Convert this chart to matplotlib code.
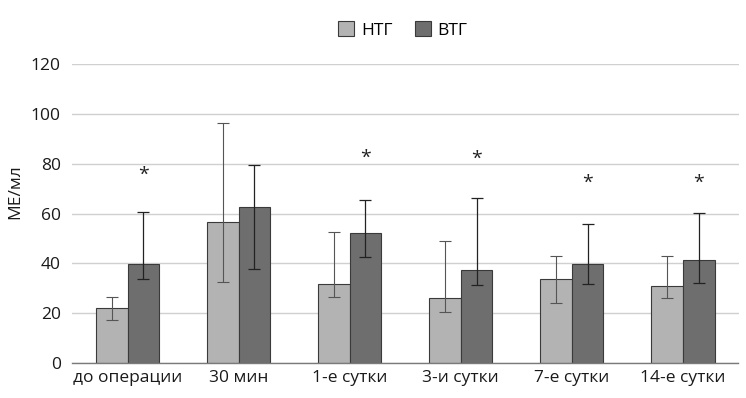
import matplotlib
matplotlib.use("Agg")
import matplotlib.pyplot as plt
import numpy as np

plt.rcParams['font.family'] = ['Open Sans', 'DejaVu Sans']

categories = ["до операции", "30 мин", "1-е сутки", "3-и сутки", "7-е сутки", "14-е сутки"]
series_names = ["НТГ", "ВТГ"]
ntg = [22.1, 56.5, 31.6, 26.1, 33.7, 30.9]
ntg_hi = [26.4, 96.4, 52.4, 49.1, 42.9, 42.9]
ntg_lo = [17.3, 32.7, 26.5, 20.3, 24.0, 25.9]
vtg = [39.7, 62.5, 52.3, 37.3, 39.7, 41.3]
vtg_hi = [60.8, 79.5, 65.3, 66.1, 55.9, 60.3]
vtg_lo = [33.9, 37.7, 42.5, 31.5, 31.9, 32.3]
star_pos = [75.5, None, 82.4, 82.1, 72.4, 72.4]
yticks = [0, 20, 40, 60, 80, 100, 120]

fig = plt.figure(figsize=(7.46, 3.98), dpi=100)
ax = fig.add_axes([72/746, 1-363/398, (738.5-72)/746, (363-64)/398])

x = np.arange(len(categories))
w = 0.284
c_light = "#b3b3b3"
c_dark = "#6e6e6e"

ax.bar(x - w/2, ntg, w, color=c_light, edgecolor="#3a3a3a", linewidth=0.8, label=series_names[0], zorder=2)
ax.bar(x + w/2, vtg, w, color=c_dark, edgecolor="#3a3a3a", linewidth=0.8, label=series_names[1], zorder=2)

ntg_a = np.array(ntg); vtg_a = np.array(vtg)
ax.errorbar(x - w/2, ntg_a, yerr=[ntg_a - np.array(ntg_lo), np.array(ntg_hi) - ntg_a],
            fmt='none', ecolor="#555555", elinewidth=0.8, capsize=4, capthick=0.8, zorder=3)
ax.errorbar(x + w/2, vtg_a, yerr=[vtg_a - np.array(vtg_lo), np.array(vtg_hi) - vtg_a],
            fmt='none', ecolor="#222222", elinewidth=0.9, capsize=4, capthick=0.9, zorder=3)

for xi, s in zip(x, star_pos):
    if s is not None:
        ax.text(xi + w/2, s, "*", ha="center", va="center", fontsize=14, color="#222222")

ax.set_xlim(-0.5, len(categories) - 0.5)
ax.set_ylim(0, 120)
ax.set_yticks(yticks)
ax.set_xticks(x)
ax.set_xticklabels(categories)
ax.tick_params(axis='both', length=0, labelsize=12.5, colors="#1a1a1a")
ax.tick_params(axis='y', pad=8)
ax.tick_params(axis='x', pad=5)
ax.grid(axis='y', color="#d0d0d0", linewidth=1.0, zorder=0)
ax.set_axisbelow(True)
for s in ["top", "right", "left"]:
    ax.spines[s].set_visible(False)
ax.spines["bottom"].set_color("#7a7a7a")
ax.spines["bottom"].set_linewidth(1.0)

fig.text(15/746, 1-192/398, "МЕ/мл", rotation=90, ha="center", va="center", fontsize=12.5, color="#1a1a1a")

leg = fig.legend(loc="center", bbox_to_anchor=(403/746, 1-30/398), ncol=2, frameon=False,
                 fontsize=12.5, handlelength=0.9, handleheight=0.9, handletextpad=0.4, columnspacing=1.3)

fig.savefig("out.png", dpi=100)
